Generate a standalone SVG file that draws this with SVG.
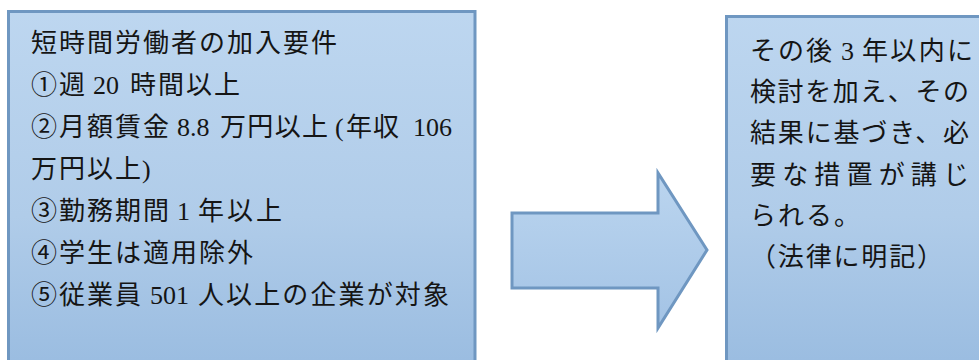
<svg xmlns="http://www.w3.org/2000/svg" width="979" height="360" viewBox="0 0 979 360">
  <style>
    .box { stroke: #6f97c1; stroke-width: 3; }
    .t { font-family: "Liberation Serif", "Noto Sans CJK JP", serif; font-size: 26px; fill: #151515; }
    .j { font-family: "Noto Sans CJK JP", sans-serif; }
  </style>
  <defs>
    <linearGradient id="g" gradientUnits="userSpaceOnUse" x1="0" y1="0" x2="0" y2="360">
      <stop offset="0" stop-color="#bed7f0"/>
      <stop offset="0.6" stop-color="#b0cce9"/>
      <stop offset="1" stop-color="#9bbde1"/>
    </linearGradient>
    <linearGradient id="ga" gradientUnits="userSpaceOnUse" x1="0" y1="173" x2="0" y2="329">
      <stop offset="0" stop-color="#bbd5ef"/>
      <stop offset="1" stop-color="#a3c3e5"/>
    </linearGradient>
  </defs>

  <g id="left-box">
    <rect class="box" x="8.5" y="11.5" width="466.5" height="400" fill="url(#g)"/>
    <text class="t j" x="31" y="52" textLength="306" lengthAdjust="spacing">短時間労働者の加入要件</text>
    <text class="t" y="94"><tspan class="j" x="31" textLength="54" lengthAdjust="spacing">①週</tspan> <tspan x="93">20</tspan> <tspan class="j" x="130" textLength="110" lengthAdjust="spacing">時間以上</tspan></text>
    <text class="t" y="136"><tspan class="j" x="31" textLength="138" lengthAdjust="spacing">②月額賃金</tspan> <tspan x="177">8.8</tspan> <tspan class="j" x="220" textLength="108" lengthAdjust="spacing">万円以上</tspan> <tspan x="335">(</tspan><tspan class="j" x="346" textLength="53" lengthAdjust="spacing">年収</tspan> <tspan x="413">106</tspan></text>
    <text class="t" y="178"><tspan class="j" x="31" textLength="110" lengthAdjust="spacing">万円以上</tspan><tspan x="142">)</tspan></text>
    <text class="t" y="220"><tspan class="j" x="31" textLength="138" lengthAdjust="spacing">③勤務期間</tspan> <tspan x="177">1</tspan> <tspan class="j" x="198" textLength="84" lengthAdjust="spacing">年以上</tspan></text>
    <text class="t j" x="31" y="262" textLength="222" lengthAdjust="spacing">④学生は適用除外</text>
    <text class="t" y="304"><tspan class="j" x="31" textLength="110" lengthAdjust="spacing">⑤従業員</tspan> <tspan x="150">501</tspan> <tspan class="j" x="198" textLength="251" lengthAdjust="spacing">人以上の企業が対象</tspan></text>
  </g>

  <g id="connectors">
    <polygon id="arrow" class="box" points="512,213 658,213 658,173 707,250 658,328 658,288 512,288" fill="url(#ga)"/>
  </g>

  <g id="right-box">
    <rect class="box" x="726.5" y="16.5" width="300" height="400" fill="url(#g)"/>
    <text class="t" y="60"><tspan class="j" x="750" textLength="82" lengthAdjust="spacing">その後</tspan> <tspan x="841">3</tspan> <tspan class="j" x="862" textLength="111" lengthAdjust="spacing">年以内に</tspan></text>
    <text class="t j" x="750" y="101" textLength="219" lengthAdjust="spacing">検討を加え、その</text>
    <text class="t j" x="750" y="142" textLength="219" lengthAdjust="spacing">結果に基づき、必</text>
    <text class="t j" x="750" y="184" textLength="219" lengthAdjust="spacing">要な措置が講じ</text>
    <text class="t j" x="750" y="225" textLength="110" lengthAdjust="spacing">られる。</text>
    <text class="t j" x="750" y="266" textLength="193" lengthAdjust="spacing">（法律に明記）</text>
  </g>
</svg>
